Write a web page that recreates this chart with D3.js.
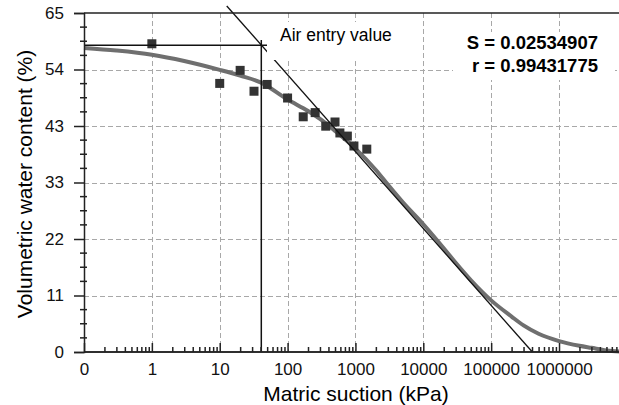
<!DOCTYPE html>
<html>
<head>
<meta charset="utf-8">
<script src="https://cdn.jsdelivr.net/npm/d3@7"></script>
<style>
  body { margin: 0; background: #fff; }
  svg { display: block; font-family: "Liberation Sans", Arial, sans-serif; }
</style>
</head>
<body>
<svg id="chart"></svg>
<script>
const width = 619;
const height = 405;

// measured points
const suction = [1, 10, 20, 32, 50, 100, 170, 255, 365, 500, 590, 760, 950, 1470];
const theta = [59.1, 51.5, 54.0, 50.0, 51.3, 48.7, 45.1, 45.9, 43.3, 44.1, 42.0, 41.4, 39.5, 38.9];

// fitted curve
const fitSuction = [0.1, 0.3, 1, 3, 10, 20, 40, 100, 200, 300, 500, 1000, 2000, 3000, 5000,
  10000, 20000, 30000, 50000, 1e5, 2e5, 3e5, 5e5, 1e6, 2e6, 3e6, 5e6, 1e7];
const fitTheta = [58.3, 57.8, 57.0, 55.8, 54.1, 53.0, 51.7, 48.4, 46.2, 44.7, 42.4, 39.0, 34.9, 32.1, 28.7,
  24.5, 19.9, 17.1, 13.8, 9.9, 6.8, 5.1, 3.5, 2.1, 1.2, 0.8, 0.3, 0.0];

// air entry construction
const airEntry = 41;
const satTheta = 58.8;
const tangent = [[12.7, 66.35], [405000, 0]];

const xTickValues = [0.1, 1, 10, 100, 1000, 10000, 100000, 1000000];
const xTickLabels = ["0", "1", "10", "100", "1000", "10000", "100000", "1000000"];
const yTickLabels = ["0", "11", "22", "33", "43", "54", "65"];

const fitS = "S = 0.02534907";
const fitR = "r = 0.99431775";

const plotLeft = 84, plotTop = 13, plotBottom = 352;

const svg = d3.select('#chart')
    .attr('width', width)
    .attr('height', height);

svg.append('rect').attr('width', width).attr('height', height).attr('fill', '#fff');

const x = d3.scaleLog()
    .domain([0.1, 1e7])
    .range([plotLeft, plotLeft + 8 * 67.86]);
const y = d3.scaleLinear()
    .domain([0, 65])
    .range([plotBottom, plotTop]);

const yMajor = yTickLabels.map((d, i) => i * 65 / 6);
const yMinor = d3.range(0, 25).map(i => i * 65 / 24).filter((d, i) => i % 4 != 0);
const xMinor = [];
xTickValues.concat([1e7]).forEach(v => { for (let k = 2; k < 10; k++) if (v * k < 1e7) xMinor.push(v * k); });

// grid
const grid = svg.append('g')
    .attr('stroke', '#a8a8a8')
    .attr('stroke-width', 1)
    .attr('stroke-dasharray', '5,3');
grid.selectAll('line.v')
  .data(xTickValues.slice(1))
  .enter().append('line')
    .attr('x1', d => Math.round(x(d)) + 0.5)
    .attr('x2', d => Math.round(x(d)) + 0.5)
    .attr('y1', plotTop)
    .attr('y2', plotBottom);
grid.selectAll('line.h')
  .data(yMajor.slice(1, 6))
  .enter().append('line')
    .attr('x1', plotLeft)
    .attr('x2', width)
    .attr('y1', d => Math.round(y(d)) + 0.5)
    .attr('y2', d => Math.round(y(d)) + 0.5);

// fitted curve
const line = d3.line()
    .x((d, i) => x(fitSuction[i]))
    .y(d => y(d))
    .curve(d3.curveMonotoneX);
svg.append('path')
    .attr('d', line(fitTheta))
    .attr('fill', 'none')
    .attr('stroke', '#6f6f6f')
    .attr('stroke-width', 4);

// data squares
svg.selectAll('rect.pt')
  .data(suction)
  .enter().append('rect')
    .attr('x', (d, i) => x(d) - 4.5)
    .attr('y', (d, i) => y(theta[i]) - 4.5)
    .attr('width', 9)
    .attr('height', 9)
    .attr('fill', '#333');

// construction lines
const cons = svg.append('g').attr('stroke', '#111').attr('stroke-width', 1.5);
cons.append('line')
    .attr('x1', x(0.1)).attr('x2', x(60))
    .attr('y1', y(satTheta)).attr('y2', y(satTheta));
cons.append('line')
    .attr('x1', x(airEntry)).attr('x2', x(airEntry))
    .attr('y1', y(59.8)).attr('y2', y(0));
cons.append('line')
    .attr('x1', x(tangent[0][0])).attr('y1', y(tangent[0][1]))
    .attr('x2', x(tangent[1][0])).attr('y2', y(tangent[1][1]))
    .attr('stroke-width', 1.3);

// label boxes
svg.append('rect').attr('x', 267).attr('y', 22).attr('width', 140).attr('height', 38).attr('fill', '#fff');
svg.append('rect').attr('x', 453).attr('y', 32).attr('width', 162).attr('height', 48).attr('fill', '#fff');

svg.append('text')
    .attr('x', 280).attr('y', 41)
    .attr('font-size', 17.5)
    .text('Air entry value');
svg.append('text')
    .attr('x', 598).attr('y', 48.5)
    .attr('text-anchor', 'end')
    .attr('font-size', 18.5).attr('font-weight', 'bold')
    .text(fitS);
svg.append('text')
    .attr('x', 598).attr('y', 71.5)
    .attr('text-anchor', 'end')
    .attr('font-size', 18.5).attr('font-weight', 'bold')
    .text(fitR);

// axes
const xAxis = svg.append('g')
    .attr('transform', `translate(0,${plotBottom})`)
    .call(d3.axisBottom(x).tickValues(xTickValues).tickFormat((d, i) => xTickLabels[i]).tickSize(-9));
xAxis.selectAll('.tick text').attr('y', 23).attr('dy', 0);
xAxis.append('g')
    .call(d3.axisBottom(x).tickValues(xMinor).tickFormat('').tickSize(-5));
xAxis.selectAll('.domain').attr('d', `M${plotLeft},0H${width}`);

const yAxis = svg.append('g')
    .attr('transform', `translate(${plotLeft},0)`)
    .call(d3.axisLeft(y).tickValues(yMajor).tickFormat((d, i) => yTickLabels[i]).tickSize(10).tickPadding(10));
yAxis.selectAll('line.minor')
  .data(yMinor)
  .enter().append('line')
    .attr('x1', -4).attr('x2', 3)
    .attr('y1', d => y(d)).attr('y2', d => y(d));

svg.selectAll('.domain, .tick line').attr('stroke', '#222').attr('stroke-width', 1.5);
yAxis.selectAll('line').attr('stroke', '#222').attr('stroke-width', 1.5);
svg.selectAll('.tick text').attr('font-size', 17).attr('fill', '#111').attr('font-family', '"Liberation Sans", Arial, sans-serif');

// top border
svg.append('line')
    .attr('x1', plotLeft).attr('x2', width)
    .attr('y1', plotTop).attr('y2', plotTop)
    .attr('stroke', '#222').attr('stroke-width', 1.5);

// axis titles
svg.append('text')
    .attr('x', 356).attr('y', 401)
    .attr('text-anchor', 'middle')
    .attr('font-size', 21)
    .text('Matric suction (kPa)');
svg.append('text')
    .attr('transform', `translate(32,184) rotate(-90)`)
    .attr('text-anchor', 'middle')
    .attr('font-size', 21)
    .text('Volumetric water content (%)');
</script>
</body>
</html>
